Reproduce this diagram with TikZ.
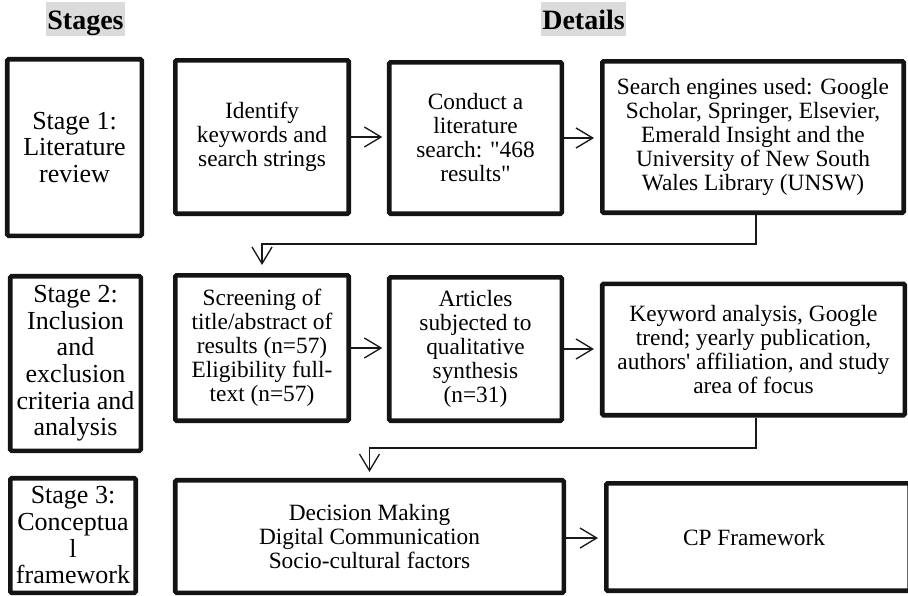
\documentclass[tikz,border=0pt]{standalone}
\usepackage{fontspec}
\setmainfont{Liberation Serif}[Ligatures=TeXOff]
\usetikzlibrary{arrows.meta,calc}
\begin{document}
\begin{tikzpicture}[x=0.75pt,y=-0.75pt,
  box/.style={draw=black!92, line width=3.4pt, rounded corners=1pt, inner sep=0pt, align=center, fill=white},
  stagebox/.style={box, font=\fontsize{19.5pt}{20pt}\selectfont},
  detbox/.style={box, font=\fontsize{17.5pt}{18pt}\selectfont},
  head/.style={fill=black!14, inner sep=0pt, font=\fontsize{21pt}{22pt}\selectfont\bfseries, minimum height=25.5pt, text height=17pt, text depth=0.5pt},
  conn/.style={draw=black!90, line width=1pt, -{Straight Barb[length=12.5pt,width=15pt,line width=1pt]}}
]
\useasboundingbox (0,0) rectangle (908,596);

% headers
\node[head, minimum width=59.25pt] (hs) at (85.5,19) {Stages};
\node[head, minimum width=63.75pt] (hd) at (583.5,19) {Details};

% row 1
\node[stagebox, minimum width=100.9pt, minimum height=132.4pt] (s1) at (74.5,147.5) {Stage 1:\\Literature\\review};
\node[detbox, minimum width=130.1pt, minimum height=115.1pt] (ident) at (262,137) {Identify\\keywords and\\search strings};
\node[detbox, minimum width=129.4pt, minimum height=113.6pt] (cond) at (475.5,138) {Conduct a\\literature\\search: "468\\results"};
\node[detbox, minimum width=226.1pt, minimum height=113.6pt] (search) at (753,137) {Search engines used: Google\\Scholar, Springer, Elsevier,\\Emerald Insight and the\\University of New South\\Wales Library (UNSW)};

% row 2
\node[stagebox, minimum width=97.9pt, minimum height=130.9pt] (s2) at (75.5,363.5) {Stage 2:\\Inclusion\\and\\exclusion\\criteria and\\analysis};
\node[detbox, minimum width=130.1pt, minimum height=109.1pt] (screen) at (262,348) {Screening of\\title/abstract of\\results (n=57)\\Eligibility full-\\text (n=57)};
\node[detbox, minimum width=129.4pt, minimum height=107.6pt] (art) at (475.5,349) {Articles\\subjected to\\qualitative\\synthesis\\(n=31)};
\node[detbox, minimum width=226.9pt, minimum height=98.6pt] (key) at (753.5,349.5) {Keyword analysis, Google\\trend; yearly publication,\\authors' affiliation, and study\\area of focus};

% row 3
\node[stagebox, minimum width=94.1pt, minimum height=85.9pt] (s3) at (73,535.5) {Stage 3:\\Conceptua\\l\\framework};
\node[detbox, minimum width=291.4pt, minimum height=84.4pt] (dec) at (369.5,536.5) {Decision Making\\Digital Communication\\Socio-cultural factors};
\node[detbox, minimum width=227.6pt, minimum height=80.6pt] (cp) at (758,537) {};
\node[font=\fontsize{17.5pt}{18pt}\selectfont] (cptext) at (754,538) {CP Framework};

% connectors
\coordinate (b1) at (756,244);
\coordinate (b2) at (756,448);
\draw[conn, shorten >=3.5pt] (ident.east) -- (cond.west |- ident.east);
\draw[conn, shorten >=4.5pt] (cond.east) -- (search.west |- cond.east);
\draw[conn, shorten >=3.5pt] (screen.east) -- (art.west |- screen.east);
\draw[conn, shorten >=4.5pt] (art.east) -- (key.west |- art.east);
\draw[conn, shorten >=4.5pt] (dec.east |- cptext) -- (cp.west |- cptext);
\draw[conn, shorten >=6pt] (search.south -| b1) -- (b1) -- (b1 -| screen.north) -- (screen.north);
\draw[conn, shorten >=4.5pt] (key.south -| b2) -- (b2) -- (b2 -| dec.north) -- (dec.north);
\end{tikzpicture}
\end{document}
